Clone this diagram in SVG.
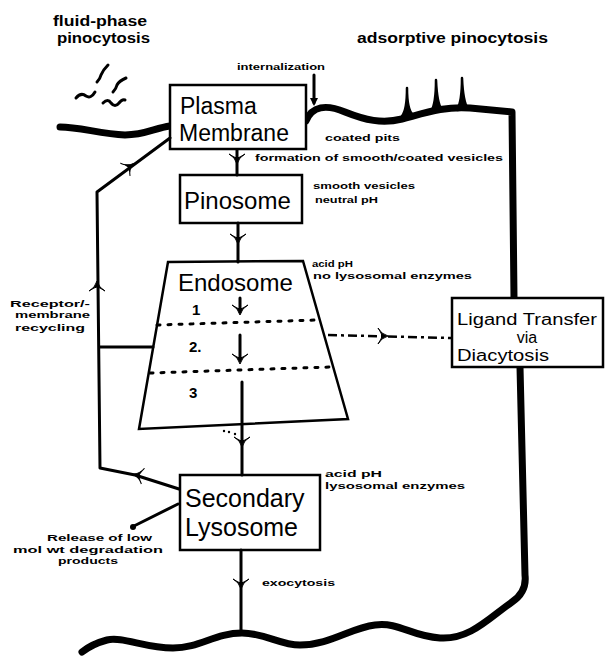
<svg xmlns="http://www.w3.org/2000/svg" width="615" height="663" viewBox="0 0 615 663">
<style>
.box{fill:#fff;stroke:#000;stroke-width:2.5}
.big{font-family:"Liberation Sans","DejaVu Sans",sans-serif;fill:#000}
.sm{font-family:"Liberation Sans","DejaVu Sans",sans-serif;font-weight:bold;font-size:9px;fill:#000}
.ttl{font-family:"Liberation Sans","DejaVu Sans",sans-serif;font-weight:bold;font-size:14px;fill:#000}
.ln{fill:none;stroke:#000;stroke-width:3;stroke-linecap:round;stroke-linejoin:round}
.mem{fill:none;stroke:#000;stroke-width:7;stroke-linecap:round;stroke-linejoin:round}
.dot{fill:none;stroke:#000;stroke-width:3;stroke-dasharray:3 8;stroke-linecap:round}
</style>
<defs>
<path id="ah" d="M-8,-6 Q-2,-3 0,4 Q2,-3 8,-6 Q2,-2 0,-2 Q-2,-2 -8,-6 Z" fill="#000" stroke="#000" stroke-width="1"/>
</defs>

<g id="titles">
<text class="ttl" x="53" y="26" textLength="94" lengthAdjust="spacingAndGlyphs">fluid-phase</text>
<text class="ttl" x="57" y="43" textLength="93" lengthAdjust="spacingAndGlyphs">pinocytosis</text>
<text class="ttl" x="357" y="43" textLength="191" lengthAdjust="spacingAndGlyphs">adsorptive pinocytosis</text>
</g>

<g id="membrane">
<path class="mem" d="M60,127 C80,127 100,134 125,135 C145,135 155,128 170,126"/>
<path class="mem" d="M306,121 C312,106 326,104 345,112 C365,120 382,124 402,119 C425,113 445,106 470,108 L512,112 L514,298"/>
<path class="mem" d="M520,367 L525,575 Q527,592 512,602 C490,617 470,640 440,638 C410,636 400,622 375,625 C350,628 330,645 300,645 C280,645 265,633 242,633 C215,633 200,648 173,648 C145,648 122,636 107,640 Q92,644 82,652"/>
<path d="M402,116 Q407,110 407,88 Q407,110 413,115 Z" fill="#000" stroke="#000" stroke-width="2.5" stroke-linejoin="round"/>
<path d="M431,112 Q436,104 436,80 Q437,104 442,110 Z" fill="#000" stroke="#000" stroke-width="2.5" stroke-linejoin="round"/>
<path d="M457,110 Q462,102 462,78 Q463,102 468,109 Z" fill="#000" stroke="#000" stroke-width="2.5" stroke-linejoin="round"/>
<path class="ln" d="M76,98 q5,-6 10,-2 q5,3 9,-4"/>
<path class="ln" d="M97,82 q3,-3 4,-7 q2,-5 7,-10"/>
<path class="ln" d="M113,92 q3,-3 4,-7 q2,-4 9,-7"/>
<path class="ln" d="M103,103 q5,-5 8,0 q4,5 8,0 q3,-4 6,-3"/>
</g>

<g id="plasma-membrane">
<rect class="box" x="170" y="85" width="136" height="64"/>
<text class="big" x="180" y="114" font-size="23">Plasma</text>
<text class="big" x="179" y="141" font-size="23">Membrane</text>
</g>

<g id="pinosome">
<rect class="box" x="180" y="175" width="122" height="48"/>
<text class="big" x="184" y="209" font-size="24">Pinosome</text>
</g>

<g id="endosome">
<polygon class="box" points="168,262 303,261 348,419 139,429"/>
<path class="dot" d="M157,325 L317,320"/>
<path class="dot" d="M150,373 L330,367"/>
<text class="big" x="178" y="291" font-size="24">Endosome</text>
<text class="big" x="192" y="315" font-size="15" font-weight="bold">1</text>
<text class="big" x="189" y="352" font-size="15" font-weight="bold">2.</text>
<text class="big" x="189" y="398" font-size="15" font-weight="bold">3</text>
</g>

<g id="ligand-transfer">
<rect class="box" x="452" y="298" width="151" height="69"/>
<text class="big" x="457" y="325" font-size="16" textLength="140" lengthAdjust="spacingAndGlyphs">Ligand Transfer</text>
<text class="big" x="527" y="343" font-size="16" text-anchor="middle">via</text>
<text class="big" x="457" y="361" font-size="16" textLength="92" lengthAdjust="spacingAndGlyphs">Diacytosis</text>
</g>

<g id="secondary-lysosome">
<rect class="box" x="180" y="475" width="140" height="75"/>
<text class="big" x="185" y="507" font-size="25">Secondary</text>
<text class="big" x="185" y="536" font-size="25">Lysosome</text>
</g>

<g id="connectors">
<path class="ln" d="M314,75 L314,103"/>
<path d="M310,98 L314,106 L318,98 Z" fill="#000"/>
<path class="ln" d="M237,150 L237,175"/>
<use href="#ah" transform="translate(237,160)"/>
<path class="ln" d="M238,223 L238,262"/>
<use href="#ah" transform="translate(238,240)"/>
<path class="ln" d="M240,298 L240,312"/>
<use href="#ah" transform="translate(240,311)"/>
<path class="ln" d="M240,335 L240,360"/>
<use href="#ah" transform="translate(240,360)"/>
<path class="ln" d="M242,382 L242,475" stroke-width="3.5"/>
<use href="#ah" transform="translate(242,443)"/>
<path class="ln" d="M241,550 L241,633" stroke-width="2"/>
<use href="#ah" transform="translate(241,585)"/>
<path fill="none" stroke="#000" stroke-width="2.5" stroke-dasharray="9 4 3 4" d="M328,335 L452,338"/>
<use href="#ah" transform="translate(384,336) rotate(-90)"/>
<path class="ln" d="M100,347 L153,347" stroke-width="5" stroke-linecap="butt"/>
<path class="ln" d="M170,138 L97,192 L100,468 L135,475 L179,489"/>
<use href="#ah" transform="translate(130,166) rotate(-127)"/>
<use href="#ah" transform="translate(97,285) rotate(180)"/>
<use href="#ah" transform="translate(137,475) rotate(101)"/>
<path class="ln" d="M178,504 L134,526" stroke-width="2.5"/>
<circle cx="133" cy="527" r="3" fill="#000"/>
<circle cx="224" cy="431" r="1.2" fill="#000"/>
<circle cx="229" cy="432" r="1.2" fill="#000"/>
<circle cx="235" cy="434" r="1.2" fill="#000"/>
</g>

<g id="labels">
<text class="sm" x="237" y="70" textLength="88" lengthAdjust="spacingAndGlyphs">internalization</text>
<text class="sm" x="325" y="141" textLength="75" lengthAdjust="spacingAndGlyphs">coated pits</text>
<text class="sm" x="255" y="161" textLength="248" lengthAdjust="spacingAndGlyphs">formation of smooth/coated vesicles</text>
<text class="sm" x="313" y="189" textLength="102" lengthAdjust="spacingAndGlyphs">smooth vesicles</text>
<text class="sm" x="315" y="203" textLength="63" lengthAdjust="spacingAndGlyphs">neutral pH</text>
<text class="sm" x="312" y="267" textLength="41" lengthAdjust="spacingAndGlyphs">acid pH</text>
<text class="sm" x="313" y="279" textLength="159" lengthAdjust="spacingAndGlyphs">no lysosomal enzymes</text>
<text class="sm" x="325" y="477" textLength="57" lengthAdjust="spacingAndGlyphs">acid pH</text>
<text class="sm" x="325" y="489" textLength="140" lengthAdjust="spacingAndGlyphs">lysosomal enzymes</text>
<text class="sm" x="10" y="307" textLength="80" lengthAdjust="spacingAndGlyphs">Receptor/-</text>
<text class="sm" x="15" y="318" textLength="75" lengthAdjust="spacingAndGlyphs">membrane</text>
<text class="sm" x="15" y="331" textLength="70" lengthAdjust="spacingAndGlyphs">recycling</text>
<text class="sm" x="47" y="541" textLength="105" lengthAdjust="spacingAndGlyphs">Release of low</text>
<text class="sm" x="13" y="553" textLength="150" lengthAdjust="spacingAndGlyphs">mol wt degradation</text>
<text class="sm" x="58" y="564" textLength="60" lengthAdjust="spacingAndGlyphs">products</text>
<text class="sm" x="262" y="586" textLength="73" lengthAdjust="spacingAndGlyphs">exocytosis</text>
</g>
</svg>
